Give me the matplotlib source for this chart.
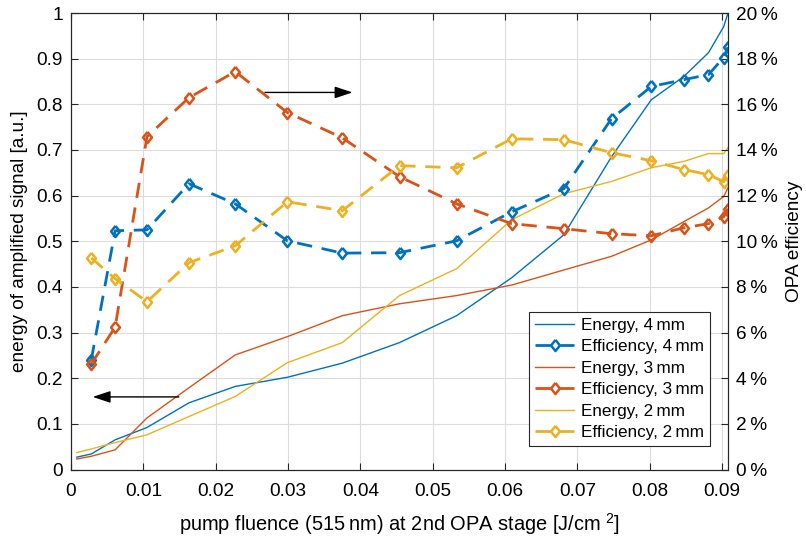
import matplotlib
matplotlib.use("Agg")
import matplotlib.pyplot as plt
from matplotlib.ticker import FixedLocator, FuncFormatter

plt.rcParams['font.family'] = ['Liberation Sans', 'DejaVu Sans']
plt.rcParams['mathtext.fontset'] = 'custom'
plt.rcParams['mathtext.rm'] = 'Liberation Sans'
plt.rcParams['mathtext.it'] = 'Liberation Sans'

# ---- data ----
x_eff = [0.0028, 0.0061, 0.0105, 0.0163, 0.0227, 0.0299, 0.0375, 0.0454, 0.0533,
         0.0609, 0.0681, 0.0747, 0.0802, 0.0847, 0.0881, 0.0902, 0.0908]
x_energy = [0.0008] + x_eff

energy_4mm = [0.027, 0.034, 0.065, 0.092, 0.146, 0.182, 0.202, 0.233, 0.278, 0.337,
              0.420, 0.514, 0.685, 0.810, 0.861, 0.913, 0.970, 1.000]
energy_3mm = [0.023, 0.029, 0.043, 0.113, 0.179, 0.251, 0.291, 0.337, 0.363, 0.381,
              0.404, 0.437, 0.467, 0.503, 0.543, 0.573, 0.598, 0.617]
energy_2mm = [0.037, 0.045, 0.059, 0.076, 0.116, 0.160, 0.234, 0.278, 0.381, 0.440,
              0.547, 0.604, 0.631, 0.661, 0.675, 0.692, 0.692, 0.705]

eff_4mm = [4.8, 10.46, 10.5, 12.52, 11.64, 10.02, 9.48, 9.5, 10.02, 11.29, 12.30,
           15.37, 16.78, 17.08, 17.3, 18.05, 18.5]
eff_3mm = [4.62, 6.24, 14.58, 16.29, 17.43, 15.64, 14.53, 12.83, 11.64, 10.77, 10.55,
           10.33, 10.24, 10.59, 10.77, 11.07, 11.43]
eff_2mm = [9.27, 8.36, 7.35, 9.06, 9.8, 11.73, 11.34, 13.31, 13.22, 14.49, 14.45,
           13.88, 13.53, 13.14, 12.92, 12.61, 12.92]

x_ticks = [0, 0.01, 0.02, 0.03, 0.04, 0.05, 0.06, 0.07, 0.08, 0.09]
y_left_ticks = [0, 0.1, 0.2, 0.3, 0.4, 0.5, 0.6, 0.7, 0.8, 0.9, 1.0]
y_right_ticks = [0, 2, 4, 6, 8, 10, 12, 14, 16, 18, 20]

series = [("4\u2009mm", energy_4mm, eff_4mm, '#0072BD'),
          ("3\u2009mm", energy_3mm, eff_3mm, '#D95319'),
          ("2\u2009mm", energy_2mm, eff_2mm, '#EDB120')]

diamond = [(0, 1), (0.8, 0), (0, -1), (-0.8, 0), (0, 1)]

# ---- figure ----
W, H = 806, 541
fig = plt.figure(figsize=(W / 100, H / 100), dpi=100)
ax = fig.add_axes([71 / W, 1 - 469.5 / H, (728 - 71) / W, (469.5 - 13) / H])
ax2 = ax.twinx()

axcol = '#262626'
fs = 13.7

handles = []
for name, en, ef, col in series:
    h1, = ax.plot(x_energy, en, color=col, lw=1.0, label=f"Energy, {name}")
    h2, = ax2.plot(x_eff, ef, color=col, lw=2.0, dashes=(5.5, 3.5),
                   marker=diamond, markersize=8, markerfacecolor='none',
                   markeredgewidth=1.8, label=f"Efficiency, {name}")
    handles += [h1, h2]

ax.set_xlim(0, x_eff[-1])
ax.set_ylim(0, 1)
ax2.set_ylim(0, 20)

ax.xaxis.set_major_locator(FixedLocator(x_ticks))
ax.yaxis.set_major_locator(FixedLocator(y_left_ticks))
ax2.yaxis.set_major_locator(FixedLocator(y_right_ticks))
ax.xaxis.set_major_formatter(FuncFormatter(lambda v, p: '0' if v == 0 else f'{v:g}'))
ax.yaxis.set_major_formatter(FuncFormatter(lambda v, p: '0' if v == 0 else ('1' if v == 1 else f'{v:g}')))
ax2.yaxis.set_major_formatter(FuncFormatter(lambda v, p: f'{int(round(v))}\u2009%'))

ax.grid(True, color='#dcdcdc', lw=0.8)
ax.set_axisbelow(True)

for a in (ax, ax2):
    for s in a.spines.values():
        s.set_color(axcol)
        s.set_linewidth(0.8)
ax.tick_params(axis='both', direction='in', length=5, width=0.8, colors=axcol,
               labelsize=fs, labelcolor='black', top=True, right=False, pad=6)
ax.tick_params(axis='x', pad=10)
ax2.tick_params(axis='y', direction='in', length=5, width=0.8, colors=axcol,
                labelsize=fs, labelcolor='black', pad=6)

ax.set_xlabel('pump fluence (515\u2009nm) at 2nd OPA stage [J/cm $^{2}$]', fontsize=14.4, labelpad=8)
ax.set_ylabel('energy of amplified signal [a.u.]', fontsize=fs, labelpad=6)
ax2.set_ylabel('OPA efficiency', fontsize=fs, labelpad=6)

# arrows
ax.annotate('', xy=(0.0389, 0.826), xytext=(0.0268, 0.826),
            arrowprops=dict(arrowstyle='-|>,head_length=0.6,head_width=0.2', color='black', lw=1.0,
                            mutation_scale=18, shrinkA=0, shrinkB=0))
ax.annotate('', xy=(0.0030, 0.159), xytext=(0.0149, 0.159),
            arrowprops=dict(arrowstyle='-|>,head_length=0.6,head_width=0.2', color='black', lw=1.0,
                            mutation_scale=18, shrinkA=0, shrinkB=0))

leg = ax2.legend(handles=handles, loc='upper left',
                 bbox_to_anchor=((529 - 71) / (728 - 71), (469.5 - 312) / (469.5 - 13)),
                 fontsize=12.3, frameon=True, fancybox=False, framealpha=1,
                 edgecolor='#262626', handlelength=2.3, handletextpad=0.4,
                 borderpad=0.35, labelspacing=0.38, borderaxespad=0)
leg.get_frame().set_linewidth(0.8)

fig.savefig('out.png', dpi=100)
